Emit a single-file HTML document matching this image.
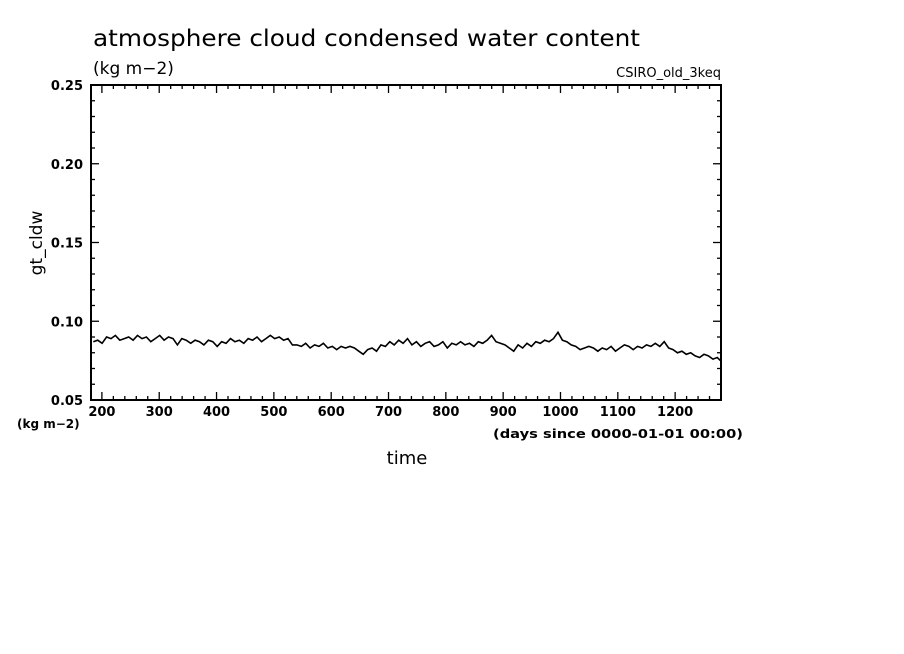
<!DOCTYPE html>
<html><head><meta charset="utf-8"><style>
body{margin:0;background:#fff;}
svg{display:block;font-family:"DejaVu Sans","Liberation Sans",sans-serif;}
</style></head><body>
<svg id="chart" width="904" height="654" xmlns="http://www.w3.org/2000/svg">
<text x="93" y="46" font-size="23" textLength="547" lengthAdjust="spacingAndGlyphs">atmosphere cloud condensed water content</text>
<text x="93" y="74" font-size="17">(kg m−2)</text>
<text x="721" y="77" font-size="13" text-anchor="end">CSIRO_old_3keq</text>
<text transform="translate(42,243) rotate(-90)" font-size="17" text-anchor="middle">gt_cldw</text>
<text x="407" y="464" font-size="18" text-anchor="middle">time</text>
<text x="17" y="428" font-size="12" font-weight="bold">(kg m−2)</text>
<text x="493" y="438" font-size="12" font-weight="bold" textLength="250" lengthAdjust="spacingAndGlyphs">(days since 0000-01-01 00:00)</text>
<g id="axes"></g>
<path id="series" fill="none" stroke="#000" stroke-width="1.6"/>
<rect x="91" y="85" width="630" height="315" fill="none" stroke="#000" stroke-width="2"/>
</svg>
<script>
const startDay = 185;
const stepDays = 7.72;
const values = [0.087,0.088,0.086,0.090,0.089,0.091,0.088,0.089,0.090,0.088,0.091,0.089,0.090,0.087,0.089,0.091,0.088,0.090,0.089,0.085,0.089,0.088,0.086,0.088,0.087,0.085,0.088,0.087,0.084,0.087,0.086,0.089,0.087,0.088,0.086,0.089,0.088,0.090,0.087,0.089,0.091,0.089,0.090,0.088,0.089,0.085,0.085,0.084,0.086,0.083,0.085,0.084,0.086,0.083,0.084,0.082,0.084,0.083,0.084,0.083,0.081,0.079,0.082,0.083,0.081,0.085,0.084,0.087,0.085,0.088,0.086,0.089,0.085,0.087,0.084,0.086,0.087,0.084,0.085,0.087,0.083,0.086,0.085,0.087,0.085,0.086,0.084,0.087,0.086,0.088,0.091,0.087,0.086,0.085,0.083,0.081,0.085,0.083,0.086,0.084,0.087,0.086,0.088,0.087,0.089,0.093,0.088,0.087,0.085,0.084,0.082,0.083,0.084,0.083,0.081,0.083,0.082,0.084,0.081,0.083,0.085,0.084,0.082,0.084,0.083,0.085,0.084,0.086,0.084,0.087,0.083,0.082,0.080,0.081,0.079,0.080,0.078,0.077,0.079,0.078,0.076,0.077,0.075];
const xTickLabels = [200,300,400,500,600,700,800,900,1000,1100,1200];
const yTickLabels = ["0.05","0.10","0.15","0.20","0.25"];
const X0=91,X1=721,Y0=400,Y1=85;
const dMin=181, dMax=1280, vMin=0.05, vMax=0.25;
const xs=d=>X0+(d-dMin)/(dMax-dMin)*(X1-X0);
const ys=v=>Y0-(v-vMin)/(vMax-vMin)*(Y0-Y1);
const NS="http://www.w3.org/2000/svg";
const g=document.getElementById('axes');
function ln(x1,y1,x2,y2,name){const l=document.createElementNS(NS,'line');l.setAttribute('x1',x1);l.setAttribute('y1',y1);l.setAttribute('x2',x2);l.setAttribute('y2',y2);l.setAttribute('stroke','#000');l.setAttribute('stroke-width','1.3');


g.appendChild(l);}
function tx(x,y,s,anchor,name){const t=document.createElementNS(NS,'text');t.setAttribute('x',x);t.setAttribute('y',y);t.setAttribute('font-size','13');t.setAttribute('font-weight','bold');t.setAttribute('text-anchor',anchor);t.textContent=s;


g.appendChild(t);}
for(let d=200;d<=1280;d+=20){const x=xs(d);const L=(d%100===0)?8:4;ln(x,Y0,x,Y0-L,'x-tick');ln(x,Y1,x,Y1+L,'x-tick-top');}
xTickLabels.forEach(d=>tx(xs(d),416,String(d),'middle','x-tick-label'));
for(let i=0;i<=20;i++){const v=vMin+i*0.01;const y=ys(v);const L=(i%5===0)?8:4;ln(X0,y,X0+L,y,'y-tick');ln(X1,y,X1-L,y,'y-tick-right');}
yTickLabels.forEach(s=>tx(83,ys(parseFloat(s))+5,s,'end','y-tick-label'));
let p='';values.forEach((v,i)=>{const d=Math.min(startDay+i*stepDays,1279);p+=(i?'L':'M')+xs(d).toFixed(1)+','+ys(v).toFixed(1);});
document.getElementById('series').setAttribute('d',p);
</script>
</body></html>
